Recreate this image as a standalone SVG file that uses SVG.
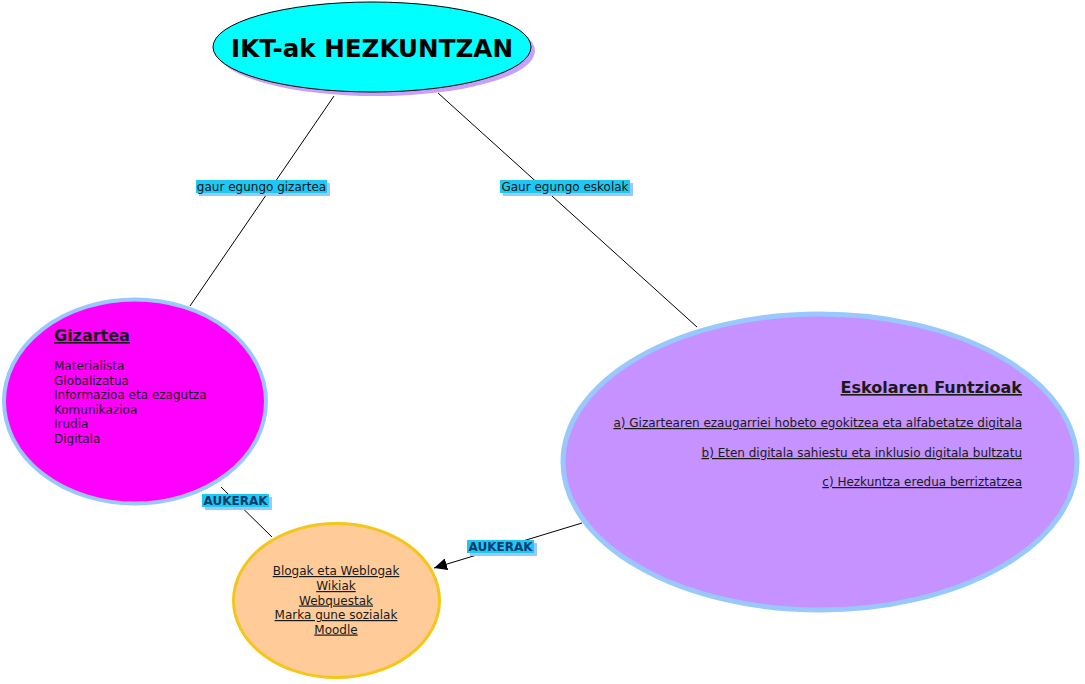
<svg xmlns="http://www.w3.org/2000/svg" width="1085" height="684" viewBox="0 0 1085 684">
<defs>
<style>
text{font-family:"DejaVu Sans",Verdana,sans-serif;}
.body{font-size:12px;fill:#1a1a1a;}
.ul{text-decoration:underline;}
.bold{font-weight:bold;}
.conn{stroke:#000;stroke-width:1;fill:none;}
.lblbg{fill:#1ec8f5;}
.lblsh{fill:#99c8ff;}
.lbl{font-size:12px;fill:#111;}
.auk{font-size:12px;font-weight:bold;fill:#0a3a6a;}
</style>
<marker id="arrow" markerWidth="14" markerHeight="12" refX="13" refY="6" orient="auto" markerUnits="userSpaceOnUse">
<path d="M0,0 L13,6 L0,12 Z" fill="#000"/>
</marker>
</defs>
<rect width="1085" height="684" fill="#fff"/>

<g id="connectors">
<line class="conn" x1="334" y1="96" x2="190" y2="306"/>
<line class="conn" x1="438" y1="93" x2="697" y2="327"/>
<line class="conn" x1="221" y1="487" x2="272" y2="537"/>
<line class="conn" x1="582" y1="523" x2="434" y2="568" marker-end="url(#arrow)"/>
</g>

<g id="node-ikt">
<ellipse cx="376" cy="51" rx="159" ry="45" fill="#c8a0f8"/>
<ellipse cx="372" cy="47" rx="159" ry="45" fill="#00ffff" stroke="#000" stroke-width="1"/>
<text x="372" y="57" text-anchor="middle" class="bold" font-size="25" fill="#000" textLength="282" lengthAdjust="spacingAndGlyphs">IKT-ak HEZKUNTZAN</text>
</g>

<g id="node-gizartea">
<ellipse cx="135" cy="401.5" rx="131" ry="102" fill="#ff00ff" stroke="#99c8ff" stroke-width="4"/>
<text x="54" y="341" class="bold ul" font-size="16" fill="#1a1a1a">Gizartea</text>
<text x="54" y="370" class="body">Materialista</text>
<text x="54" y="384.5" class="body">Globalizatua</text>
<text x="54" y="399" class="body">Informazioa eta ezagutza</text>
<text x="54" y="413.5" class="body">Komunikazioa</text>
<text x="54" y="428" class="body">Irudia</text>
<text x="54" y="442.5" class="body">Digitala</text>
</g>

<g id="node-eskola">
<ellipse cx="820" cy="462" rx="257" ry="148" fill="#c592ff" stroke="#99c8ff" stroke-width="5"/>
<text x="1022" y="393" text-anchor="end" class="bold ul" font-size="16" fill="#1a1a1a">Eskolaren Funtzioak</text>
<text x="1022" y="427" text-anchor="end" class="body ul">a) Gizartearen ezaugarriei hobeto egokitzea eta alfabetatze digitala</text>
<text x="1022" y="457" text-anchor="end" class="body ul">b) Eten digitala sahiestu eta inklusio digitala bultzatu</text>
<text x="1022" y="486" text-anchor="end" class="body ul">c) Hezkuntza eredua berriztatzea</text>
</g>

<g id="node-aukerak">
<ellipse cx="336.5" cy="600.5" rx="103" ry="77" fill="#ffcc99" stroke="#f5c518" stroke-width="3"/>
<text x="336" y="575" text-anchor="middle" class="body ul">Blogak eta Weblogak</text>
<text x="336" y="590" text-anchor="middle" class="body ul">Wikiak</text>
<text x="336" y="604.5" text-anchor="middle" class="body ul">Webquestak</text>
<text x="336" y="619" text-anchor="middle" class="body ul">Marka gune sozialak</text>
<text x="336" y="633.5" text-anchor="middle" class="body ul">Moodle</text>
</g>

<g id="labels">
<g id="lbl-gizartea">
<rect class="lblsh" x="199" y="183" width="131" height="13"/>
<rect class="lblbg" x="196" y="180" width="131" height="13"/>
<text x="261.5" y="191" text-anchor="middle" class="lbl">gaur egungo gizartea</text>
</g>
<g id="lbl-eskolak">
<rect class="lblsh" x="503" y="183" width="130" height="13"/>
<rect class="lblbg" x="500" y="180" width="130" height="13"/>
<text x="565" y="191" text-anchor="middle" class="lbl">Gaur egungo eskolak</text>
</g>
<g id="lbl-aukerak1">
<rect class="lblsh" x="205" y="497" width="67" height="13"/>
<rect class="lblbg" x="202" y="494" width="67" height="13"/>
<text x="235.5" y="505" text-anchor="middle" class="auk">AUKERAK</text>
</g>
<g id="lbl-aukerak2">
<rect class="lblsh" x="470" y="543" width="67" height="13"/>
<rect class="lblbg" x="467" y="540" width="67" height="13"/>
<text x="500.5" y="551" text-anchor="middle" class="auk">AUKERAK</text>
</g>
</g>
</svg>
